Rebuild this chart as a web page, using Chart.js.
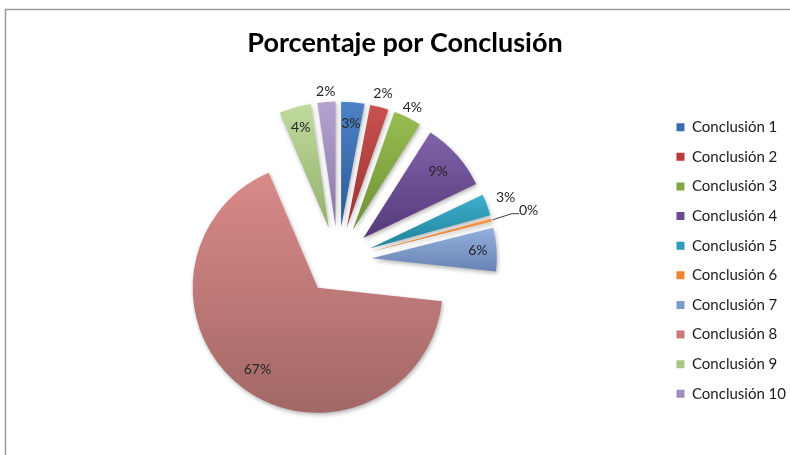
<!DOCTYPE html>
<html>
<head>
<meta charset="utf-8">
<script src="https://cdn.jsdelivr.net/npm/chart.js@4/dist/chart.umd.min.js"></script>
<style>
html,body{margin:0;padding:0;background:#fff;overflow:hidden;}
canvas{display:block;}
</style>
</head>
<body>
<canvas id="c" width="790" height="455"></canvas>
<script>
// ---- data ----
const categories = ['Conclusión 1','Conclusión 2','Conclusión 3','Conclusión 4','Conclusión 5',
                    'Conclusión 6','Conclusión 7','Conclusión 8','Conclusión 9','Conclusión 10'];
const percentages = [3.0, 2.4, 3.6, 8.9, 2.8, 0.4, 5.6, 66.9, 4.1, 2.3];
const chartTitle = 'Porcentaje por Conclusión';

// ---- style ----
const baseColors = ['#3a6cb1','#b83b39','#80a741','#684a93','#2d9cb8','#ef8530','#7d9acb','#c57b79','#a8c583','#9f8cbe'];
const gradTop    = ['#4c82c6','#c9524f','#97bd52','#8062a9','#3cb0cc','#f89a4c','#93afdd','#d98a88','#c0da9f','#b4a3d0'];
const gradBottom = ['#2b5a98','#9a3330','#6f9236','#553a7b','#21829b','#dc7426','#6984b4','#a26866','#93b06a','#8a77a8'];
const labelDistance = [0.83, 1.11, 1.09, 0.80, 1.16, 1.0, 0.85, 0.81, 0.83, 1.08];
const leaderLine = [false,false,false,false,false,true,false,false,false,false];
const EXPLODE = 34;
const RADIUS = 125;
const FONT = 'Lato';

const explodePlugin = {
  id: 'explodeAndLabels',
  beforeDraw(chart) {
    const ctx = chart.ctx;
    ctx.save();
    ctx.strokeStyle = '#9a9a9a';
    ctx.lineWidth = 1.5;
    ctx.beginPath();
    ctx.moveTo(5.5, 460); ctx.lineTo(5.5, 9.5); ctx.lineTo(800, 9.5);
    ctx.stroke();
    ctx.restore();
  },
  afterDatasetsUpdate(chart) {
    const meta = chart.getDatasetMeta(0);
    meta.data.forEach(arc => {
      const mid = (arc.startAngle + arc.endAngle) / 2;
      arc.x += EXPLODE * Math.cos(mid);
      arc.y += EXPLODE * Math.sin(mid);
    });
  },
  beforeDatasetsDraw(chart) {
    const ctx = chart.ctx;
    const meta = chart.getDatasetMeta(0);
    meta.data.forEach((arc, i) => {
      const R = arc.outerRadius;
      let ymin = arc.y, ymax = arc.y;
      const n = 60;
      for (let k = 0; k <= n; k++) {
        const a = arc.startAngle + (arc.endAngle - arc.startAngle) * k / n;
        const y = arc.y + R * Math.sin(a);
        ymin = Math.min(ymin, y); ymax = Math.max(ymax, y);
      }
      const g = ctx.createLinearGradient(0, ymin, 0, ymax + 0.01);
      g.addColorStop(0, gradTop[i]);
      g.addColorStop(1, gradBottom[i]);
      arc.options = Object.assign({}, arc.options, {backgroundColor: g});
    });
    ctx.save();
    ctx.shadowColor = 'rgba(0,0,0,0.30)';
    ctx.shadowBlur = 4;
    ctx.shadowOffsetX = 1;
    ctx.shadowOffsetY = 2;
  },
  afterDatasetsDraw(chart) {
    const ctx = chart.ctx;
    ctx.restore();
    const meta = chart.getDatasetMeta(0);
    const total = percentages.reduce((a, b) => a + b, 0);
    ctx.save();
    ctx.font = '14px ' + FONT;
    ctx.fillStyle = '#262626';
    ctx.textBaseline = 'middle';
    meta.data.forEach((arc, i) => {
      const mid = (arc.startAngle + arc.endAngle) / 2;
      const R = arc.outerRadius;
      const dx = Math.cos(mid), dy = Math.sin(mid);
      const txt = Math.round(percentages[i] / total * 100) + '%';
      if (leaderLine[i]) {
        const sx = arc.x + (R + 1) * dx, sy = arc.y + (R + 1) * dy;
        const ex = arc.x + (R + 21) * dx, ey = arc.y + (R + 21) * dy - 1;
        ctx.strokeStyle = '#404040';
        ctx.lineWidth = 1;
        ctx.beginPath();
        ctx.moveTo(sx, sy); ctx.lineTo(ex, ey); ctx.lineTo(ex + 7, ey);
        ctx.stroke();
        ctx.textAlign = 'left';
        ctx.fillText(txt, ex + 7, ey - 3);
      } else {
        const d = labelDistance[i] * R;
        ctx.textAlign = 'center';
        ctx.fillText(txt, arc.x + d * dx, arc.y + d * dy);
      }
    });
    ctx.restore();
  }
};

new Chart(document.getElementById('c'), {
  type: 'pie',
  data: {
    labels: categories,
    datasets: [{
      data: percentages,
      backgroundColor: baseColors,
      borderWidth: 0,
      radius: RADIUS
    }]
  },
  options: {
    responsive: false,
    animation: false,
    events: [],
    layout: { padding: { left: 14, right: -6, top: 0, bottom: 10 } },
    plugins: {
      title: {
        display: true,
        text: chartTitle,
        color: '#000',
        font: { family: FONT, size: 27, weight: 'bold' },
        padding: { top: 26.8, bottom: 16.8 }
      },
      legend: {
        position: 'right',
        fullSize: false,
        labels: {
          boxWidth: 8,
          boxHeight: 8,
          padding: 14.63,
          color: '#1a1a1a',
          font: { family: FONT, size: 15 }
        }
      },
      tooltip: { enabled: false }
    }
  },
  plugins: [explodePlugin]
});
</script>
</body>
</html>
